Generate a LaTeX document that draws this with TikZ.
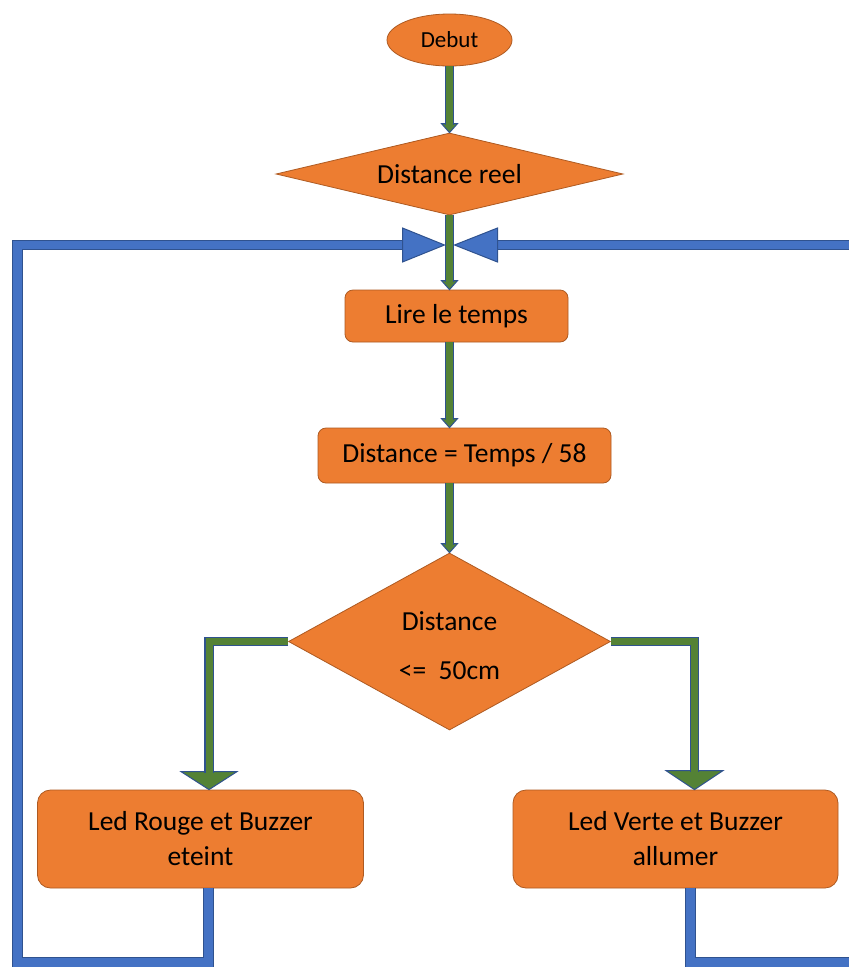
\documentclass[tikz,border=0pt]{standalone}
\usepackage{fontspec}
\setmainfont{Carlito}
\usetikzlibrary{shapes.geometric,calc}
\definecolor{orfill}{HTML}{ED7D31}
\definecolor{ordraw}{HTML}{AE5A21}
\definecolor{grfill}{HTML}{548235}
\definecolor{bluefill}{HTML}{4472C4}
\definecolor{blueline}{HTML}{2F528F}
\begin{document}
\begin{tikzpicture}[x=1pt,y=-1pt,
  box/.style={draw=ordraw, line width=0.8pt, fill=orfill, rounded corners=8pt, inner sep=0pt,
    align=center, font=\fontsize{27.5}{33}\selectfont},
  bigbox/.style={box, rounded corners=13pt, font=\fontsize{27.5}{35}\selectfont,
    minimum width=326pt, minimum height=98pt},
  dia/.style={diamond, draw=ordraw, fill=orfill, line width=0.8pt, inner sep=0pt, align=center},
  gshaft/.style={draw=blueline, line width=1.1pt, double=grfill, double distance=7pt, line join=miter},
  bshaft/.style={draw=blueline, line width=1pt, double=bluefill, double distance=8.5pt, line join=miter},
  ghead/.style={fill=grfill, draw=blueline, line width=1pt, line join=miter},
  bhead/.style={fill=bluefill, draw=blueline, line width=1pt, line join=miter}]
\useasboundingbox (0,0) rectangle (849,967);
\fill[white] (0,0) rectangle (849,967);
\clip (0,0) rectangle (849,967);

% nodes
\node[ellipse, draw=ordraw, fill=orfill, line width=0.8pt, inner sep=0pt,
  minimum width=125pt, minimum height=52pt, font=\fontsize{23}{28}\selectfont]
  (debut) at (449.5,40) {Debut};
\node[dia, shape aspect=4.2, minimum width=347pt, minimum height=82pt,
  font=\fontsize{27.5}{33}\selectfont] (reel) at (449.5,174) {Distance reel};
\node[box, minimum width=223pt, minimum height=52pt] (lire) at (456.5,316) {Lire le temps};
\node[box, minimum width=293pt, minimum height=55pt] (dist) at (464.5,455.5) {Distance = Temps / 58};
\node[dia, shape aspect=1.82, minimum width=322pt, minimum height=177pt,
  font=\fontsize{27.5}{49}\selectfont] (d2) at (449.5,641.5) {\rule{0pt}{28pt}Distance\\<=\ \ 50cm};
\node[bigbox] (lr) at (200.5,839) {Led Rouge et Buzzer\\eteint};
\node[bigbox, minimum width=325pt] (lv) at (675.5,839) {Led Verte et Buzzer\\allumer};

% vertical green arrows
\filldraw[ghead] (reel.north) -- ++(-8,-9) -- ++(16,0) -- cycle;
\draw[gshaft] (debut.south) -- ($(reel.north)+(0,-8)$);

\coordinate (t2) at (reel.south |- lire.north);
\filldraw[ghead] (t2) -- ++(-8,-9) -- ++(16,0) -- cycle;
\draw[gshaft] (reel.south) -- ($(t2)+(0,-8)$);

\coordinate (s3) at (reel.south |- lire.south);
\coordinate (t3) at (reel.south |- dist.north);
\filldraw[ghead] (t3) -- ++(-8,-9) -- ++(16,0) -- cycle;
\draw[gshaft] (s3) -- ($(t3)+(0,-8)$);

\coordinate (s4) at (d2.north |- dist.south);
\filldraw[ghead] (d2.north) -- ++(-8,-9) -- ++(16,0) -- cycle;
\draw[gshaft] (s4) -- ($(d2.north)+(0,-8)$);

% elbow green arrows
\coordinate (tipL) at ($(lr.north)+(8.5,0)$);
\filldraw[ghead] (tipL) -- ++(-28,-18) -- ++(56,0) -- cycle;
\draw[gshaft] (d2.west) -| ($(tipL)+(0,-17)$);

\coordinate (tipR) at ($(lv.north)+(19,0)$);
\filldraw[ghead] (tipR) -- ++(-28.5,-19) -- ++(57,0) -- cycle;
\draw[gshaft] (d2.east) -| ($(tipR)+(0,-18)$);

% blue loops
\coordinate (join) at (449.5,245);
\coordinate (edgeR) at (870,245);
\coordinate (edgeRB) at (870,962.5);
\draw[bshaft] ($(lr.south)+(8,0)$) |- (17.5,962.5) |- ($(join)+(-46,0)$);
\filldraw[bhead] ($(join)+(-5,0)$) -- ++(-42,-17) -- ++(0,34) -- cycle;
\draw[bshaft] (edgeR) -- ($(join)+(47,0)$);
\filldraw[bhead] ($(join)+(5,0)$) -- ++(43,-17) -- ++(0,34) -- cycle;
\draw[bshaft] ($(lv.south)+(15,0)$) |- (edgeRB);
\end{tikzpicture}
\end{document}
